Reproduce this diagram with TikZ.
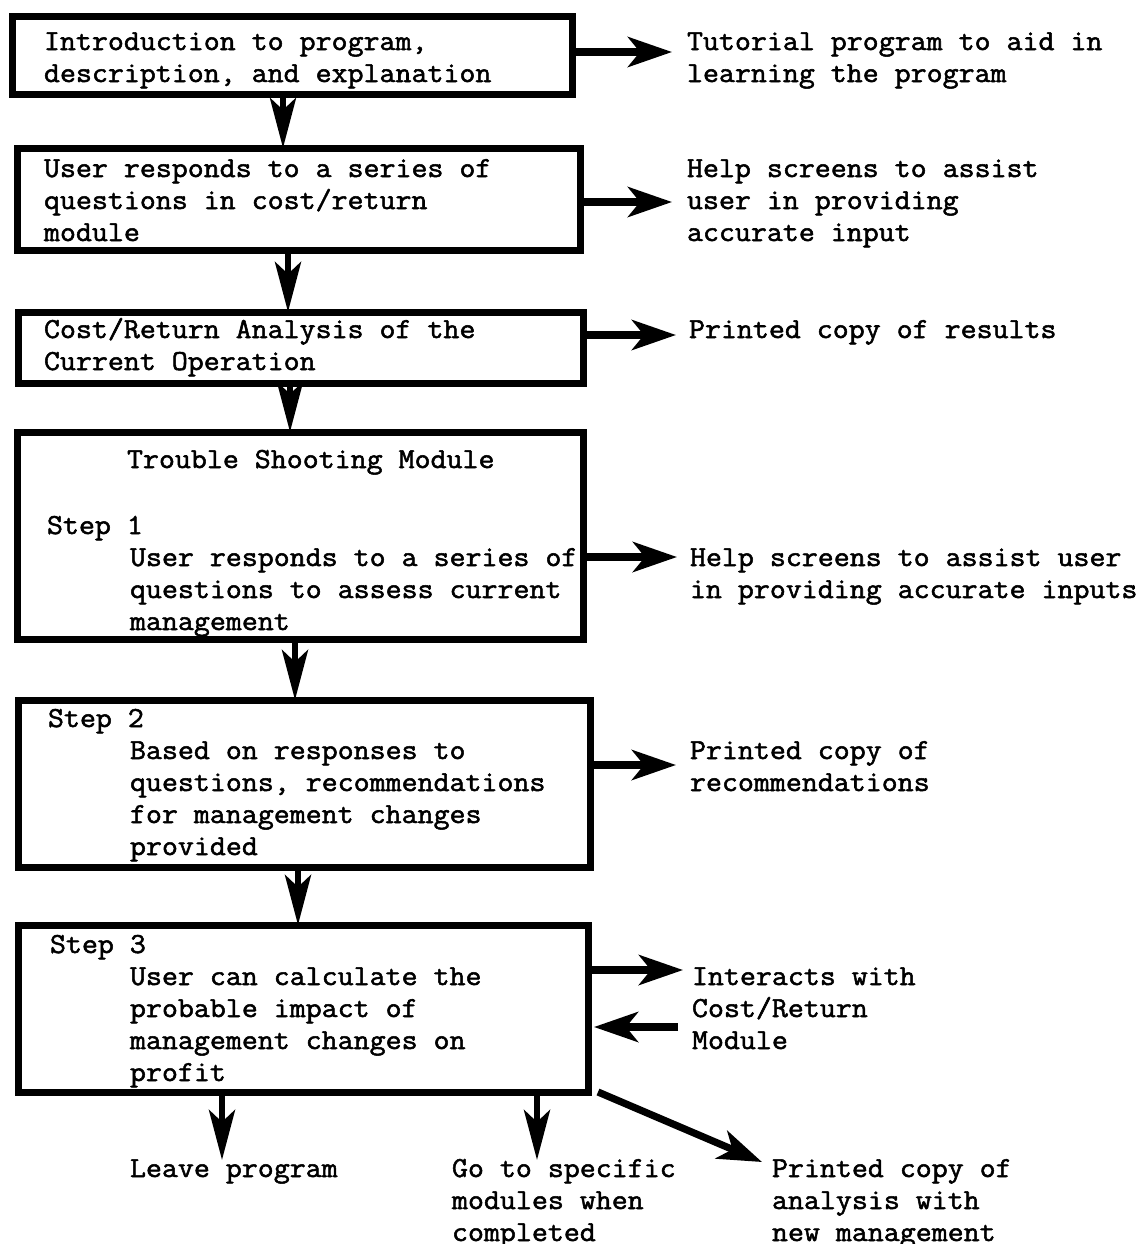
\documentclass[tikz,border=0pt]{standalone}
\usepackage{fontspec}
\setmonofont[FakeStretch=1.07,FakeBold=1.8]{Latin Modern Mono}
\usetikzlibrary{arrows.meta}
\tikzset{
  box/.style={draw, line width=3.5pt, inner sep=0pt, outer sep=0pt},
  txt/.style={font=\ttfamily\fontsize{14.5pt}{16pt}\selectfont, align=left, anchor=base west, inner sep=0pt, outer sep=0pt},
  arr/.style={line width=3.6pt, -{Stealth[length=22pt,width=15pt,inset=6pt]}},
  varr/.style={line width=3.2pt, -{Stealth[length=25pt,width=13pt,inset=6pt]}}
}
\begin{document}
\begin{tikzpicture}[x=0.5pt,y=-0.5pt]
\useasboundingbox (0,0) rectangle (1143,1244);
% boxes
\node[box, minimum width=280pt, minimum height=39pt] (b1) at (292,55) {};
\node[box, minimum width=281.5pt, minimum height=51pt] (b2) at (298.5,199) {};
\node[box, minimum width=282.5pt, minimum height=35.5pt] (b3) at (300.5,347.5) {};
\node[box, minimum width=283pt, minimum height=103.5pt] (b4) at (300,535.5) {};
\node[box, minimum width=286pt, minimum height=83.5pt] (b5) at (304,783.5) {};
\node[box, minimum width=285pt, minimum height=83.5pt] (b6) at (303,1008.5) {};
% box texts (anchor = baseline of last line)
\node[txt] (t1) at (44,82) {Introduction to program,\\description, and explanation};
\node[txt] (t2) at (44,241) {User responds to a series of\\questions in cost/return\\module};
\node[txt] (t3) at (44,370) {Cost/Return Analysis of the\\Current Operation};
\node[txt] (t4a) at (127,468) {Trouble Shooting Module};
\node[txt] (t4b) at (47,534) {Step 1};
\node[txt] (t4c) at (130,630) {User responds to a series of\\questions to assess current\\management};
\node[txt] (t5a) at (48,727) {Step 2};
\node[txt] (t5b) at (130,855) {Based on responses to\\questions, recommendations\\for management changes\\provided};
\node[txt] (t6a) at (50,953) {Step 3};
\node[txt] (t6b) at (130,1081) {User can calculate the\\probable impact of\\management changes on\\profit};
% right texts
\node[txt] (r1) at (687,82) {Tutorial program to aid in\\learning the program};
\node[txt] (r2) at (687,241) {Help screens to assist\\user in providing\\accurate input};
\node[txt] (r3) at (689,338) {Printed copy of results};
\node[txt] (r4) at (690,598) {Help screens to assist user\\in providing accurate inputs};
\node[txt] (r5) at (690,791) {Printed copy of\\recommendations};
\node[txt] (r6) at (692,1049) {Interacts with\\Cost/Return\\Module};
% bottom texts
\node[txt] (o1) at (130,1177) {Leave program};
\node[txt] (o2) at (452,1241) {Go to specific\\modules when\\completed};
\node[txt] (o3) at (772,1241) {Printed copy of\\analysis with\\new management};
% coordinates
\coordinate (v1) at (283,0);
\coordinate (v2) at (288,0);
\coordinate (v3) at (290,0);
\coordinate (v4) at (295,0);
\coordinate (v5) at (298,0);
\coordinate (h1) at (672,52);
\coordinate (h2) at (672,202);
\coordinate (h3) at (676,335);
\coordinate (h4) at (677,557);
\coordinate (h5) at (676,765);
\coordinate (h6) at (683,970);
\coordinate (h7) at (678,1027);
\coordinate (d1) at (222,1160);
\coordinate (d2) at (537,1160);
\coordinate (d3s) at (598,1092);
\coordinate (d3) at (762,1162);
% vertical arrows
\draw[varr] (b1.south -| v1) -- (b2.north -| v1);
\draw[varr] (b2.south -| v2) -- (b3.north -| v2);
\draw[varr] (b3.south -| v3) -- (b4.north -| v3);
\draw[varr] (b4.south -| v4) -- (b5.north -| v4);
\draw[varr] (b5.south -| v5) -- (b6.north -| v5);
% horizontal arrows
\draw[arr] (b1.east |- h1) -- (h1);
\draw[arr] (b2.east |- h2) -- (h2);
\draw[arr] (b3.east |- h3) -- (h3);
\draw[arr] (b4.east |- h4) -- (h4);
\draw[arr] (b5.east |- h5) -- (h5);
\draw[arr] (b6.east |- h6) -- (h6);
\draw[arr] (h7) -- ([xshift=3pt]b6.east |- h7);
% bottom arrows
\draw[varr] (b6.south -| d1) -- (d1);
\draw[varr] (b6.south -| d2) -- (d2);
\draw[arr] (d3s) -- (d3);
\end{tikzpicture}
\end{document}
